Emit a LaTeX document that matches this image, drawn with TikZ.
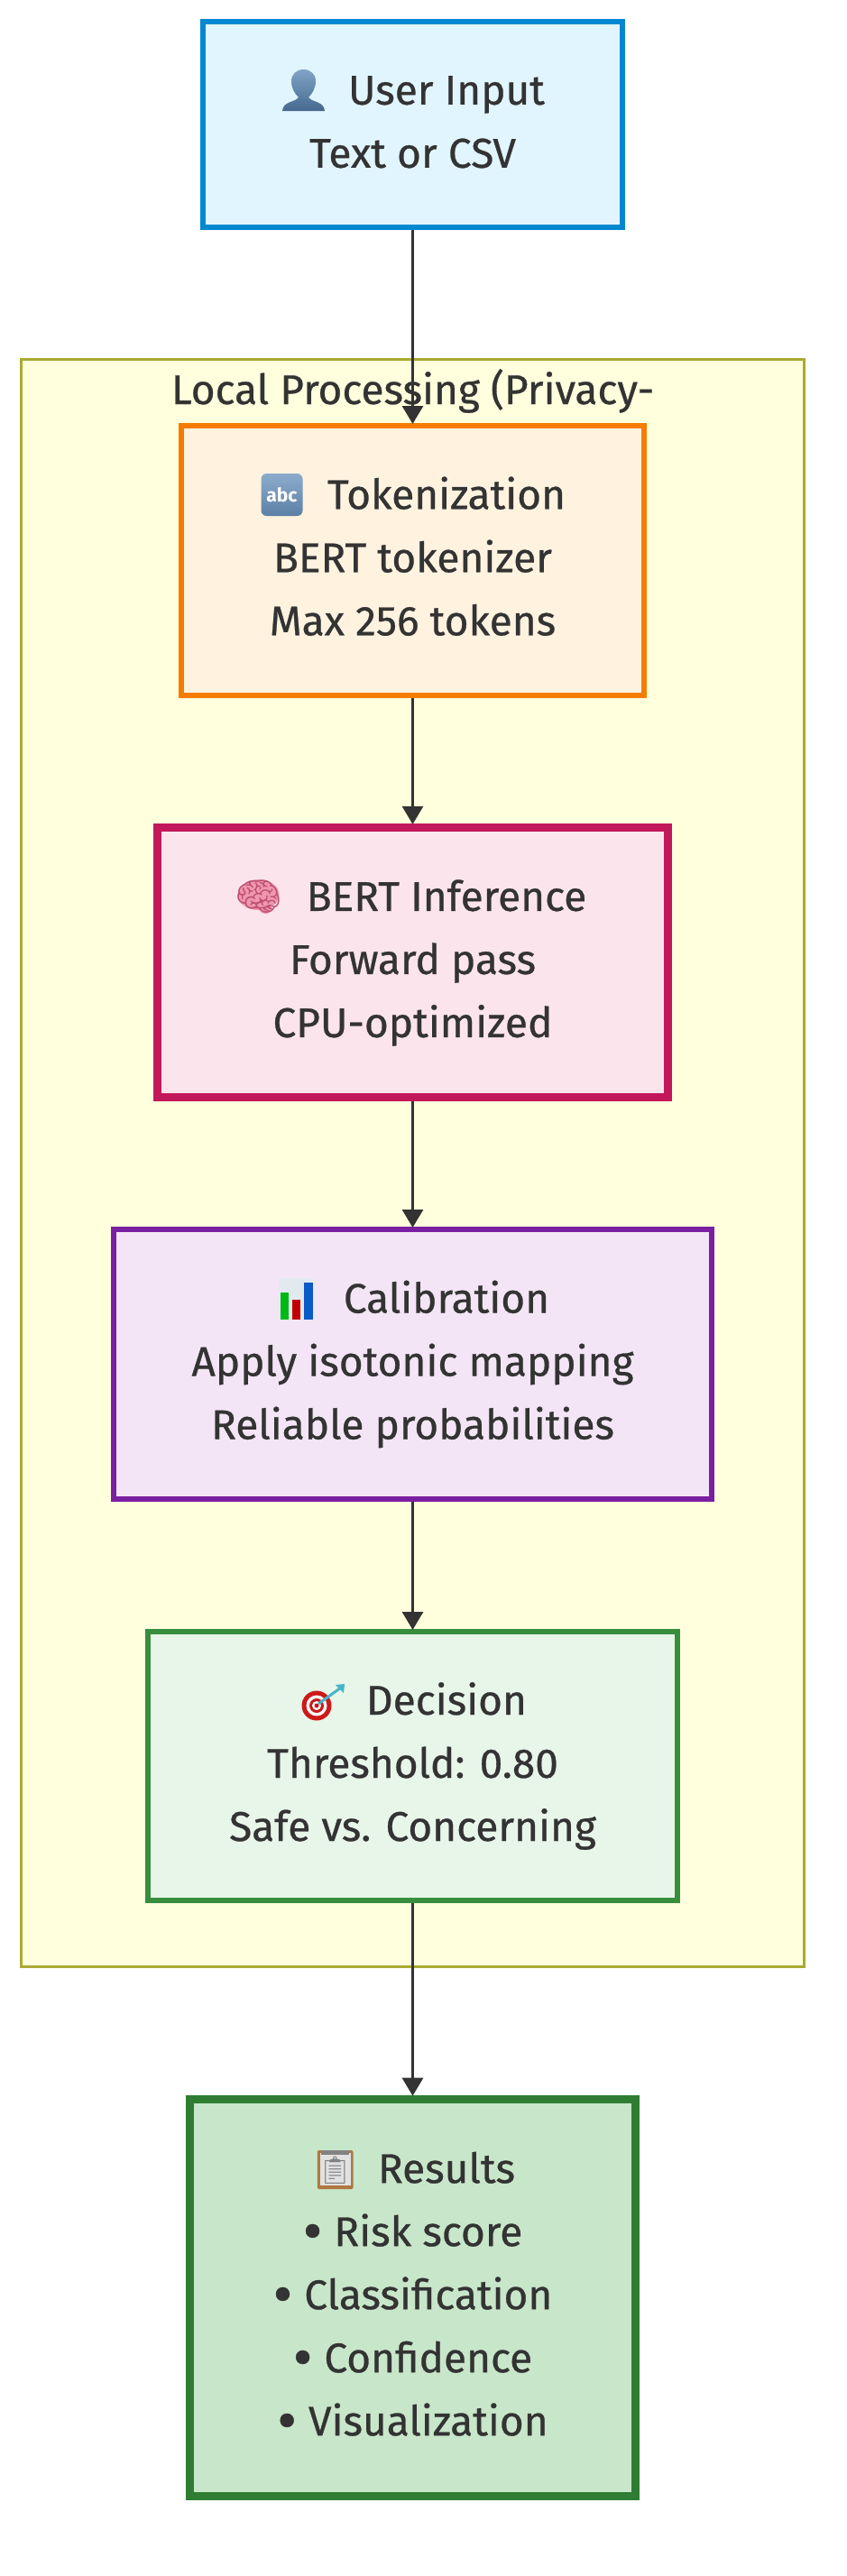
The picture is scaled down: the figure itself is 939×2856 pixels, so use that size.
\documentclass[tikz,border=0pt]{standalone}
\usepackage{fontspec}
\setmainfont[FakeBold=0.6]{Fira Sans}
\newfontfamily\plainfont{Fira Sans}
\newfontfamily\emojifont{Noto Emoji}
\usetikzlibrary{arrows.meta}
\definecolor{ink}{HTML}{333333}
\definecolor{sgfill}{HTML}{FFFFDE}
\definecolor{sgline}{HTML}{AAAA33}
\definecolor{cUser}{HTML}{0288D1}\definecolor{cUserF}{HTML}{E1F5FE}
\definecolor{cTok}{HTML}{F57C00}\definecolor{cTokF}{HTML}{FFF3E0}
\definecolor{cBert}{HTML}{C2185B}\definecolor{cBertF}{HTML}{FCE4EC}
\definecolor{cCal}{HTML}{7B1FA2}\definecolor{cCalF}{HTML}{F3E5F5}
\definecolor{cDec}{HTML}{388E3C}\definecolor{cDecF}{HTML}{E8F5E9}
\definecolor{cRes}{HTML}{2E7D32}\definecolor{cResF}{HTML}{C8E6C9}
\definecolor{ePersonT}{RGB}{128,165,198}
\definecolor{ePersonB}{RGB}{70,104,143}
\definecolor{eAbcT}{RGB}{140,172,205}
\definecolor{eAbcB}{RGB}{92,128,165}
\definecolor{eBrain}{RGB}{240,150,175}
\definecolor{eBrainD}{RGB}{190,80,115}
\definecolor{eChart}{RGB}{226,234,240}
\definecolor{eGreen}{RGB}{0,185,20}
\definecolor{eRed}{RGB}{195,0,0}
\definecolor{eBlue}{RGB}{10,90,200}
\definecolor{eTarget}{RGB}{205,25,25}
\definecolor{eDart}{RGB}{70,180,200}
\definecolor{eClip}{RGB}{175,120,65}
\definecolor{ePage}{RGB}{225,225,225}
\definecolor{ePageD}{RGB}{130,130,130}
\newcommand{\vs}{\rule[-12pt]{0pt}{50pt}}
\newcommand{\gap}{\hspace*{75pt}}
\newcommand{\bul}{\raisebox{-6pt}{\scalebox{1.45}{•}}\hspace{13pt}}
\tikzset{
  x=1pt,y=-1pt,
  flowbox/.style={rectangle,draw=#1,fill=#1F,align=center,text=ink,inner sep=0pt,font=\fontsize{46}{70}\selectfont},
  flowline/.style={draw=ink,line width=3pt,-{Triangle[length=20pt,width=23pt]},shorten >=-1pt},
  emo/.style={font=\fontsize{44}{44}\emojifont,inner sep=0pt,text=#1}
}
\begin{document}
\begin{tikzpicture}
\useasboundingbox (0,0) rectangle (939,2856);
\fill[white] (0,0) rectangle (939,2856);
\node[rectangle,draw=sgline,fill=sgfill,line width=3pt,minimum width=868pt,minimum height=1781.5pt,inner sep=0pt] (sg) at (457.5,1289.25) {};
\node[anchor=base,text=ink,font=\fontsize{46}{70}\selectfont,inner sep=0pt] (sgt) at (457.5,448) {Local Processing (Privacy-};
\node[flowbox=cUser,line width=6pt,minimum width=465pt,minimum height=228.3pt] (user) at (457.5,137.85) {\vs\gap User Input\\\vs Text or CSV};
\node[flowbox=cTok,line width=6pt,minimum width=512.6pt,minimum height=298.7pt] (tok) at (457.5,621.35) {\vs\gap Tokenization\\\vs BERT tokenizer\\\vs Max 256 tokens};
\node[flowbox=cBert,line width=9pt,minimum width=566pt,minimum height=299pt] (bert) at (457.5,1066.85) {\vs\gap BERT Inference\\\vs Forward pass\\\vs CPU-optimized};
\node[flowbox=cCal,line width=6pt,minimum width=663pt,minimum height=299pt] (cal) at (457.5,1512.5) {\vs\gap Calibration\\\vs Apply isotonic mapping\\\vs Reliable probabilities};
\node[flowbox=cDec,line width=6pt,minimum width=587.5pt,minimum height=298pt] (dec) at (457.5,1958) {\vs\gap Decision\\\vs Threshold: 0.80\\\vs Safe vs. Concerning};
\node[flowbox=cRes,line width=9pt,minimum width=494pt,minimum height=440pt] (res) at (457.5,2547.2) {\vs\gap Results\\\vs \bul Risk score\\\vs \bul Classification\\\vs \bul Confidence\\\vs \bul Visualization};
\draw[flowline] (user.south) -- (tok.north);
\draw[flowline] (tok.south) -- (bert.north);
\draw[flowline] (bert.south) -- (cal.north);
\draw[flowline] (cal.south) -- (dec.north);
\draw[flowline] (dec.south) -- (res.north);
% person
\shade[top color=ePersonT,bottom color=ePersonB] (313,123) .. controls (314,112) and (326,114) .. (331,108) .. controls (327,104) and (323,98) .. (323,90) .. controls (323,82) and (329,77) .. (336.5,77) .. controls (344,77) and (350,82) .. (350,90) .. controls (350,98) and (346,104) .. (342,108) .. controls (347,114) and (359,112) .. (360,123) -- cycle;
% abc
\node[rectangle,rounded corners=6pt,top color=eAbcT,bottom color=eAbcB,minimum width=46pt,minimum height=47pt,inner sep=0pt,text=white,font=\fontsize{21}{21}\plainfont\bfseries] (e2) at (312.5,548.5) {abc};
% brain
\fill[eBrain] (286.5,992) ellipse [x radius=23pt,y radius=17pt];
\fill[eBrain] (294,1006) circle (7pt);
\node[emo=eBrainD,font=\fontsize{42}{42}\emojifont] (e3) at (286.5,994) {^^^^^^01f9e0};
% chart
\node[rectangle,fill=eChart,minimum width=39pt,minimum height=46pt,inner sep=0pt] (e4) at (328.5,1440) {};
\fill[eGreen] (310.7,1433) rectangle (320.4,1463);
\fill[eRed] (324,1441) rectangle (333,1463);
\fill[eBlue] (337,1422) rectangle (347,1463);
% target
\fill[eTarget] (351,1891) circle (16.5pt);
\fill[white] (351,1891) circle (11.5pt);
\fill[eTarget] (351,1891) circle (8pt);
\fill[white] (351,1891) circle (5pt);
\fill[eTarget] (351,1891) circle (2.5pt);
\draw[eDart,line width=3pt] (353,1889) -- (378,1871);
\fill[eDart] (372,1868) -- (382,1867) -- (381,1877) -- cycle;
% clipboard
\fill[eClip,rounded corners=2pt] (351.8,2384) rectangle (391.5,2427);
\fill[ePage] (354.5,2387) rectangle (388.5,2423);
\fill[ePageD] (356,2384) rectangle (387,2389);
\node[emo=ePageD,font=\fontsize{30}{30}\emojifont] (e6) at (371.5,2406) {^^^^^^01f4cb};
\end{tikzpicture}
\end{document}
